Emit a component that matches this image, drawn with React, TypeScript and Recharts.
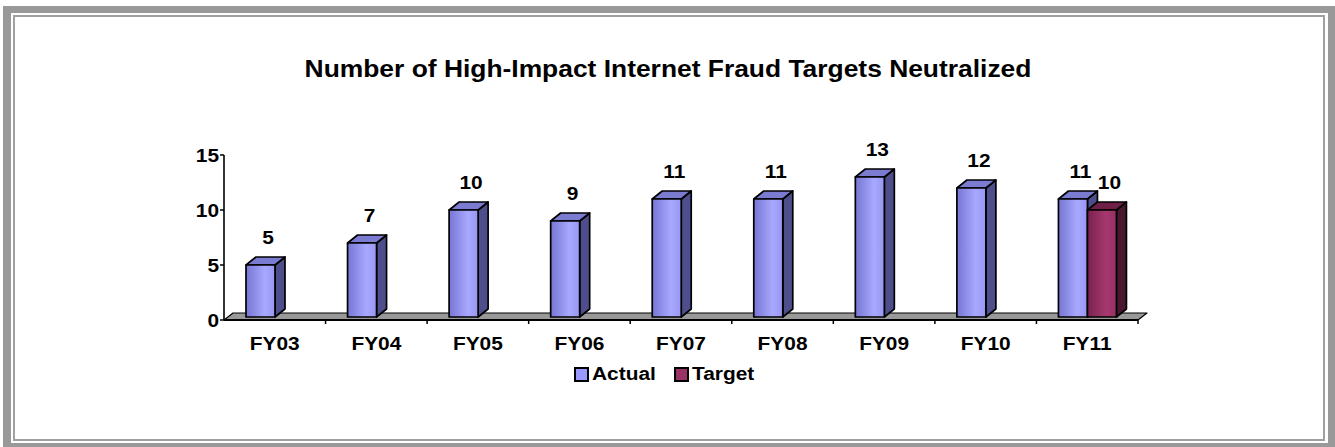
import React from 'react';
import { BarChart, Bar, XAxis, YAxis, ReferenceArea, LabelList } from 'recharts';

const years = ['FY03', 'FY04', 'FY05', 'FY06', 'FY07', 'FY08', 'FY09', 'FY10', 'FY11'];
const actual = [5, 7, 10, 9, 11, 11, 13, 12, 11];
const target: (number | null)[] = [null, null, null, null, null, null, null, null, 10];
const yTicks = [0, 5, 10, 15];
const seriesNames = ['Actual', 'Target'];
const title = 'Number of High-Impact Internet Fraud Targets Neutralized';

const data = years.map((year, i) => ({ year, actual: actual[i], target: target[i] }));

const FONT = '"Liberation Sans", Arial, sans-serif';
const SX = 1.16; // the picture is stretched sideways
const DX = 10;
const DY = 8;

const colors = {
  actual: { grad: 'gradActual', side: '#4e4e8c', top: '#7b7bd2', swatch: '#9999ff' },
  target: { grad: 'gradTarget', side: '#4a1731', top: '#6e2047', swatch: '#993366' },
};

const make3DBar = (key: 'actual' | 'target') => (props: any) => {
  const { x, y, width, height, payload } = props;
  if (payload[key] == null || !height) return <g />;
  const c = colors[key];
  const bottom = y + height - 3;
  const side = `${x + width},${y} ${x + width + DX},${y - DY} ${x + width + DX},${bottom - DY} ${x + width},${bottom}`;
  const top = `${x},${y} ${x + DX},${y - DY} ${x + width + DX},${y - DY} ${x + width},${y}`;
  return (
    <g stroke="#000" strokeWidth={1.7} strokeLinejoin="round">
      <polygon points={side} fill={c.side} />
      <polygon points={top} fill={c.top} />
      <rect x={x} y={y} width={width} height={bottom - y} fill={`url(#${c.grad})`} />
    </g>
  );
};

const Floor = (props: any) => {
  const { x, y, width, height } = props;
  const front = y + height;
  const pts = `${x},${front} ${x + 9},${front - 7} ${x + width + 9},${front - 7} ${x + width},${front}`;
  return (
    <g>
      <polygon points={pts} fill="#999999" stroke="#000" strokeWidth={1.2} strokeLinejoin="round" />
      <line x1={x} y1={front} x2={x + width} y2={front} stroke="#000" strokeWidth={1.8} />
    </g>
  );
};

const XTick = (props: any) => {
  const { x, y, payload } = props;
  const half = payload && payload.offset ? payload.offset : 50.8;
  return (
    <g>
      <line x1={x + half} y1={y} x2={x + half} y2={y + 4} stroke="#000" strokeWidth={1.5} />
      <text
        transform={`translate(${x},${y + 30}) scale(${SX},1)`}
        textAnchor="middle"
        fontFamily={FONT}
        fontWeight="bold"
        fontSize={18}
        fill="#000"
      >
        {payload.value}
      </text>
    </g>
  );
};

const YTick = (props: any) => {
  const { x, y, payload } = props;
  return (
    <text
      transform={`translate(${x},${y + 6.5}) scale(${SX},1)`}
      textAnchor="end"
      fontFamily={FONT}
      fontWeight="bold"
      fontSize={18}
      fill="#000"
    >
      {payload.value}
    </text>
  );
};

const ValueLabel = (props: any) => {
  const { x, y, width, value } = props;
  if (value == null) return null;
  return (
    <text
      transform={`translate(${x + width / 2 + 7.5},${y - 21}) scale(${SX},1)`}
      textAnchor="middle"
      fontFamily={FONT}
      fontWeight="bold"
      fontSize={18}
      fill="#000"
    >
      {value}
    </text>
  );
};

const legendItems = [
  { name: seriesNames[0], color: colors.actual.swatch, x: 575 },
  { name: seriesNames[1], color: colors.target.swatch, x: 675 },
];

export default function App() {
  return (
    <div style={{ position: 'relative', width: 1335, height: 447, background: '#fff', overflow: 'hidden' }}>
      <style>{'body{margin:0;}'}</style>
      <div style={{ position: 'absolute', left: 3, top: 6, width: 1332, height: 441, background: '#999' }} />
      <div style={{ position: 'absolute', left: 11, top: 13, width: 1317, height: 430, background: '#fff' }} />
      <div
        style={{
          position: 'absolute',
          left: 13,
          top: 15,
          width: 1312,
          height: 426,
          boxSizing: 'border-box',
          border: '2px solid #a0a0a0',
          background: '#fff',
        }}
      />
      <div style={{ position: 'absolute', left: 0, top: 0 }}>
        <BarChart
          width={1335}
          height={447}
          data={data}
          margin={{ top: 155, right: 197, bottom: 97, left: 184 }}
          barSize={29}
          barGap={0}
        >
          <defs>
            <linearGradient id="gradActual" x1="0" y1="0" x2="1" y2="0">
              <stop offset="0%" stopColor="#7676d4" />
              <stop offset="65%" stopColor="#a8a8ff" />
              <stop offset="100%" stopColor="#9797f2" />
            </linearGradient>
            <linearGradient id="gradTarget" x1="0" y1="0" x2="1" y2="0">
              <stop offset="0%" stopColor="#7a2150" />
              <stop offset="65%" stopColor="#a5396f" />
              <stop offset="100%" stopColor="#952f61" />
            </linearGradient>
          </defs>
          <ReferenceArea y1={0} y2={0.6} shape={Floor} ifOverflow="visible" />
          <XAxis
            dataKey="year"
            height={30}
            interval={0}
            tickLine={false}
            axisLine={false}
            tickSize={0}
            tickMargin={0}
            tick={<XTick />}
          />
          <YAxis
            width={40}
            domain={[0, 15]}
            ticks={yTicks}
            interval={0}
            tickSize={4}
            tickMargin={1}
            axisLine={{ stroke: '#000', strokeWidth: 1.6 }}
            tickLine={{ stroke: '#000', strokeWidth: 1.5 }}
            tick={<YTick />}
          />
          <Bar dataKey="actual" name={seriesNames[0]} fill={colors.actual.swatch} shape={make3DBar('actual')} isAnimationActive={false}>
            <LabelList dataKey="actual" content={<ValueLabel />} />
          </Bar>
          <Bar dataKey="target" name={seriesNames[1]} fill={colors.target.swatch} shape={make3DBar('target')} isAnimationActive={false}>
            <LabelList dataKey="target" content={<ValueLabel />} />
          </Bar>
        </BarChart>
      </div>
      <svg width={1335} height={447} style={{ position: 'absolute', left: 0, top: 0, pointerEvents: 'none' }}>
        <text
          transform={`translate(668,77) scale(1.1,1)`}
          textAnchor="middle"
          fontFamily={FONT}
          fontWeight="bold"
          fontSize={24}
          fill="#000"
        >
          {title}
        </text>
        {legendItems.map((item) => (
          <g key={item.name}>
            <rect x={item.x} y={368} width={13} height={13} fill={item.color} stroke="#000" strokeWidth={2} />
            <text
              transform={`translate(${item.x + 17},380) scale(${SX},1)`}
              fontFamily={FONT}
              fontWeight="bold"
              fontSize={18}
              fill="#000"
            >
              {item.name}
            </text>
          </g>
        ))}
      </svg>
    </div>
  );
}
